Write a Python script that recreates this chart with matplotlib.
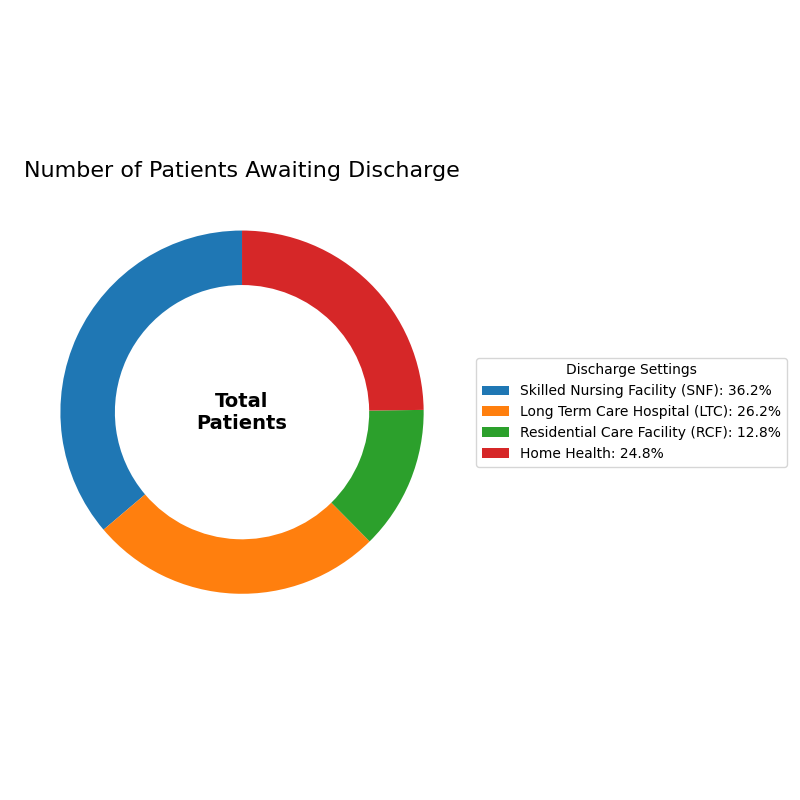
import matplotlib
matplotlib.use("Agg")
import matplotlib.pyplot as plt

# data
settings = ["Skilled Nursing Facility (SNF)", "Long Term Care Hospital (LTC)",
            "Residential Care Facility (RCF)", "Home Health"]
patients = [181, 131, 64, 124]
colors = ["#1f77b4", "#ff7f0e", "#2ca02c", "#d62728"]

total = sum(patients)
labels = [f"{s}: {p / total * 100:.1f}%" for s, p in zip(settings, patients)]

fig, ax = plt.subplots(figsize=(8, 8))
wedges, _ = ax.pie(patients, colors=colors, startangle=90,
                   wedgeprops=dict(width=0.3))
ax.text(0, 0, "Total\nPatients", ha="center", va="center",
        fontsize=14, fontweight="bold")
ax.set_title("Number of Patients Awaiting Discharge", fontsize=16)
ax.legend(wedges, labels, title="Discharge Settings",
          loc="center left", bbox_to_anchor=(1, 0.5))
plt.tight_layout()
plt.savefig("out.png", dpi=100)
